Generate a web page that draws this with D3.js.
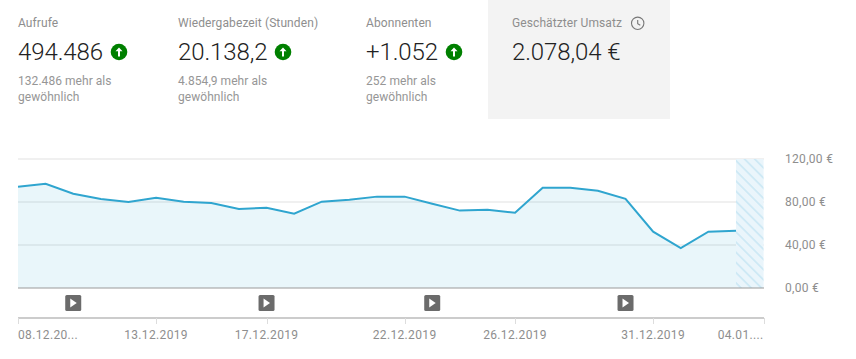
<!DOCTYPE html>
<html><head><meta charset="utf-8">
<script src="https://cdn.jsdelivr.net/npm/d3@7"></script>
<style>html,body{margin:0;padding:0;background:#fff}svg{display:block}text{font-family:Roboto,sans-serif}</style>
</head><body><div id="chart"></div>
<script>
const days = ["08.12.2019","09.12.2019","10.12.2019","11.12.2019","12.12.2019","13.12.2019","14.12.2019","15.12.2019","16.12.2019","17.12.2019","18.12.2019","19.12.2019","20.12.2019","21.12.2019","22.12.2019","23.12.2019","24.12.2019","25.12.2019","26.12.2019","27.12.2019","28.12.2019","29.12.2019","30.12.2019","31.12.2019","01.01.2020","02.01.2020","03.01.2020","04.01.2020"];
const revenue = [94.2,97,87.7,82.8,80,84,80.3,79,73.5,74.7,69.1,80.3,82.2,85,85,78.4,72,72.9,70,93.3,93.3,90.5,83,52.4,37.2,52.4,53.3];
const yTicks = [0,40,80,120];
const yTickLabels = ["0,00 €","40,00 €","80,00 €","120,00 €"];
const xTickDays = ["08.12.2019","13.12.2019","17.12.2019","22.12.2019","26.12.2019","31.12.2019","04.01.2020"];
const xTickLabels = ["08.12.20...","13.12.2019","17.12.2019","22.12.2019","26.12.2019","31.12.2019","04.01...."];
const videoDays = ["10.12.2019","17.12.2019","23.12.2019","30.12.2019"];
const cards = [
 {x:18,label:"Aufrufe",value:"494.486",up:119,note:["132.486 mehr als","gewöhnlich"]},
 {x:178,label:"Wiedergabezeit (Stunden)",value:"20.138,2",up:283,note:["4.854,9 mehr als","gewöhnlich"]},
 {x:366,label:"Abonnenten",value:"+1.052",up:454,note:["252 mehr als","gewöhnlich"]},
 {x:512,label:"Geschätzter Umsatz",value:"2.078,04 €",note:[]}
];
const W=856,H=359;
const svg=d3.select("#chart").append("svg").attr("width",W).attr("height",H);
const x=d3.scalePoint().domain(days).range([18,763.6]);
const y=d3.scaleLinear().domain([0,120]).range([288,159]);
const defs=svg.append("defs");
const pat=defs.append("pattern").attr("id","hatch").attr("patternUnits","userSpaceOnUse").attr("width",7.2).attr("height",7.2).attr("patternTransform","rotate(45)");
pat.append("rect").attr("width",7.2).attr("height",7.2).attr("fill","#eaf5fb");
pat.append("line").attr("x1",0).attr("x2",7.2).attr("y1",3.6).attr("y2",3.6).attr("stroke","#b8e0f1").attr("stroke-width",1);

// cards
svg.append("rect").attr("x",488).attr("y",0).attr("width",182).attr("height",119).attr("fill","#f3f3f3");
const g=svg.selectAll("g.card").data(cards).join("g").attr("class","card");
g.append("text").attr("x",d=>d.x).attr("y",27).attr("font-size",12).attr("letter-spacing",0.1).attr("fill","#8e8e8e").text(d=>d.label);
g.append("text").attr("x",d=>d.x).attr("y",59.5).attr("font-size",24).attr("font-weight",300).attr("letter-spacing",-0.1).attr("fill","#222").text(d=>d.value);
g.each(function(d){
  const s=d3.select(this);
  d.note.forEach((t,i)=>s.append("text").attr("x",d.x).attr("y",85+i*16).attr("font-size",12).attr("letter-spacing",0.05).attr("fill","#969696").text(t));
  if(d.up){
    const a=s.append("g").attr("transform",`translate(${d.up},52)`);
    a.append("circle").attr("r",8.3).attr("fill","#008000");
    a.append("path").attr("d","M0,-4.5L3.5,-0.8H1V4.5H-1V-0.8H-3.5Z").attr("fill","#fff");
  }
});
const clock=svg.append("g").attr("transform","translate(637.7,23.3)").attr("fill","none").attr("stroke","#777").attr("stroke-width",1.1);
clock.append("circle").attr("r",6.2);
clock.append("path").attr("d","M0,-3.4V0.3L2.6,1.9");

// plot
const yg=svg.append("g");
yg.selectAll("line").data(yTicks.filter(d=>d>0)).join("line")
 .attr("x1",18).attr("x2",764).attr("y1",d=>y(d)).attr("y2",d=>y(d)).attr("stroke","#f0f0f0").attr("stroke-width",2);
const lastDay=days[revenue.length-1];
svg.append("rect").attr("x",x(lastDay)).attr("y",y(120)).attr("width",x(days[days.length-1])-x(lastDay)).attr("height",y(0)-y(120)).attr("fill","url(#hatch)");
const pts=revenue.map((v,i)=>[days[i],v]);
svg.append("path").datum(pts).attr("fill","#2aa3cf").attr("fill-opacity",0.1)
 .attr("d",d3.area().x(d=>x(d[0])).y0(y(0)).y1(d=>y(d[1])));
svg.append("path").datum(pts).attr("fill","none").attr("stroke","#2fa5cf").attr("stroke-width",2)
 .attr("d",d3.line().x(d=>x(d[0])).y(d=>y(d[1])));
svg.append("line").attr("x1",18).attr("x2",764).attr("y1",y(0)).attr("y2",y(0)).attr("stroke","#9a9a9a").attr("stroke-width",1);
svg.selectAll("text.yl").data(yTicks).join("text").attr("class","yl").attr("x",785).attr("y",d=>y(d)+4)
 .attr("font-size",12).attr("letter-spacing",0.3).attr("fill","#8e8e8e").text((d,i)=>yTickLabels[i]);

// video markers
const v=svg.selectAll("g.v").data(videoDays).join("g").attr("class","v").attr("transform",d=>`translate(${x(d)},303)`);
v.append("rect").attr("x",-8).attr("y",-8).attr("width",16).attr("height",16).attr("rx",1.5).attr("fill","#6b6b6b");
v.append("path").attr("d","M-3,-4.5L3.5,0L-3,4.5Z").attr("fill","#fff");

// x axis
svg.append("line").attr("x1",18).attr("x2",764).attr("y1",318).attr("y2",318).attr("stroke","#cccccc").attr("stroke-width",2);
const xt=svg.selectAll("g.xt").data(xTickDays).join("g").attr("class","xt");
xt.append("line").attr("x1",d=>Math.round(x(d))+0.5).attr("x2",d=>Math.round(x(d))+0.5).attr("y1",318).attr("y2",324).attr("stroke","#dddddd");
xt.append("text").attr("y",339).attr("font-size",12).attr("letter-spacing",0.35).attr("fill","#8e8e8e")
 .attr("x",d=>x(d)).attr("text-anchor",(d,i)=>i===0?"start":i===xTickDays.length-1?"end":"middle").text((d,i)=>xTickLabels[i]);
</script></body></html>
